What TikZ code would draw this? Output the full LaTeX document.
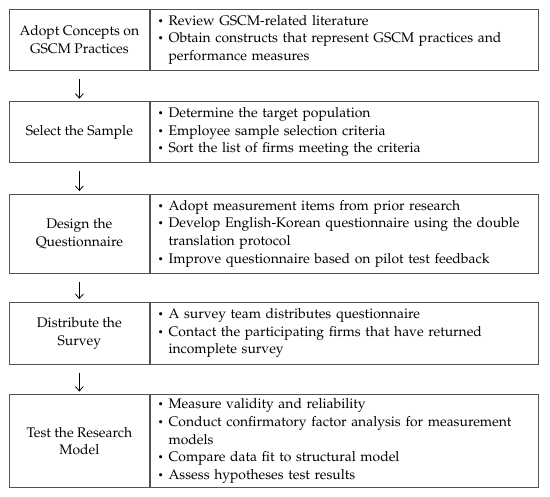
\documentclass[tikz,border=0pt]{standalone}
\usepackage[T1]{fontenc}
\renewcommand{\rmdefault}{ppl}
\usetikzlibrary{arrows.meta}
\newcommand{\bl}{\makebox[11pt][l]{\hspace*{0.3pt}\raisebox{1pt}{\fontsize{9.5}{9.5}\selectfont\textbullet}}}
\newcommand{\ind}{\hspace*{11pt}}
\begin{document}
\begin{tikzpicture}[x=1pt,y=-1pt,
  every node/.style={font=\fontsize{13.9}{17.7}\selectfont},
  cellbox/.style={draw=black!68, line width=0.9pt, inner sep=0pt},
  leftcell/.style={cellbox, minimum width=140.7pt, align=center},
  rightcell/.style={cellbox, minimum width=388.3pt, anchor=west, align=left, inner xsep=7pt, text width=374.3pt},
  arr/.style={line width=0.8pt, -{Straight Barb[length=4.5pt,width=8pt]}}]
\useasboundingbox[fill=white] (0,0) rectangle (550,497);
% row 1
\node[leftcell, minimum height=61.5pt] (L1) at (79.35,39.75) {Adopt Concepts on\\GSCM Practices};
\node[rightcell, minimum height=61.5pt] (R1) at (L1.east) {\bl Review GSCM-related literature\\\bl Obtain constructs that represent GSCM practices and\\\ind performance measures};
% row 2
\node[leftcell, minimum height=60.6pt] (L2) at (79.35,132) {Select the Sample};
\node[rightcell, minimum height=60.6pt] (R2) at (L2.east) {\bl Determine the target population\\\bl Employee sample selection criteria\\\bl Sort the list of firms meeting the criteria};
% row 3
\node[leftcell, minimum height=79pt] (L3) at (79.35,233.5) {Design the\\Questionnaire};
\node[rightcell, minimum height=79pt] (R3) at (L3.east) {\bl Adopt measurement items from prior research\\\bl Develop English-Korean questionnaire using the double\\\ind translation protocol\\\bl Improve questionnaire based on pilot test feedback};
% row 4
\node[leftcell, minimum height=62.3pt] (L4) at (79.35,333.15) {Distribute the\\Survey};
\node[rightcell, minimum height=62.3pt] (R4) at (L4.east) {\bl A survey team distributes questionnaire\\\bl Contact the participating firms that have returned\\\ind incomplete survey};
% row 5
\node[leftcell, minimum height=93pt] (L5) at (79.35,441) {Test the Research\\Model};
\node[rightcell, minimum height=93pt] (R5) at (L5.east) {\bl Measure validity and reliability\\\bl Conduct confirmatory factor analysis for measurement\\\ind models\\\bl Compare data fit to structural model\\\bl Assess hypotheses test results};
% arrows
\draw[arr] ([yshift=-8.5pt]L1.south) -- ([yshift=2.5pt]L2.north);
\draw[arr] ([yshift=-8.5pt]L2.south) -- ([yshift=2.5pt]L3.north);
\draw[arr] ([yshift=-8.5pt]L3.south) -- ([yshift=2.5pt]L4.north);
\draw[arr] ([yshift=-8.5pt]L4.south) -- ([yshift=2.5pt]L5.north);
\end{tikzpicture}
\end{document}
